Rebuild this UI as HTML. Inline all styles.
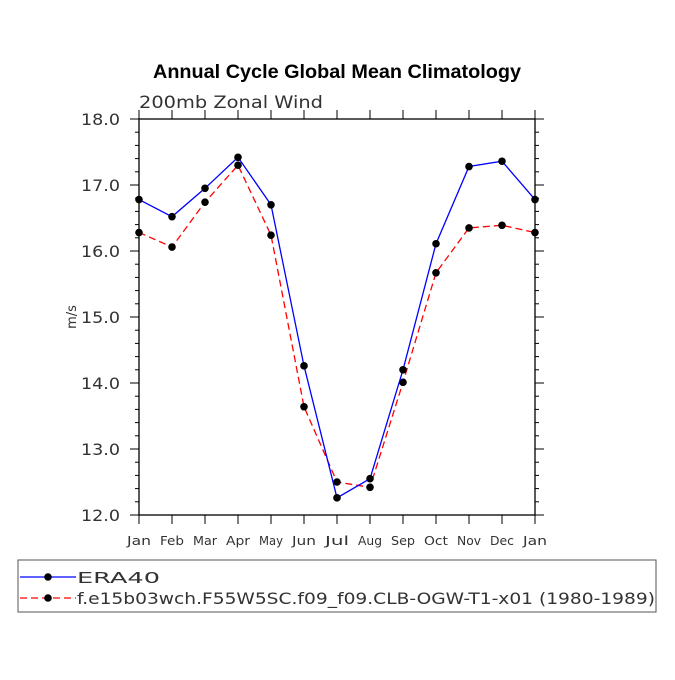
<!DOCTYPE html>
<html><head><meta charset="utf-8"><style>
body{margin:0;background:#fff}
svg text{font-family:"DejaVu Sans","Liberation Sans",sans-serif}
svg text.title{font-family:"Liberation Sans",sans-serif}
</style></head><body>
<svg id="chart" width="675" height="675" viewBox="0 0 675 675">
<text class="title" x="153" y="78" font-weight="bold" font-size="19" textLength="368" lengthAdjust="spacingAndGlyphs">Annual Cycle Global Mean Climatology</text>
<text x="139" y="108" font-size="17" fill="#333" textLength="184" lengthAdjust="spacingAndGlyphs">200mb Zonal Wind</text>
<text transform="translate(76,317) rotate(-90)" text-anchor="middle" font-size="13" fill="#333">m/s</text>
<g id="axes"></g>
<g id="series"></g>
<rect x="18" y="560" width="638" height="52" fill="none" stroke="#555" stroke-width="1"/>
<g>
<line x1="20" y1="577" x2="76" y2="577" stroke="#0000ff" stroke-width="1.3"/>
<circle cx="48" cy="577" r="3.8" fill="#000"/>
<text x="77" y="583" font-size="15" fill="#333" textLength="83" lengthAdjust="spacingAndGlyphs">ERA40</text>
</g>
<g>
<line x1="20" y1="598" x2="76" y2="598" stroke="#ff0000" stroke-width="1.3" stroke-dasharray="7,4"/>
<circle cx="48" cy="598" r="3.8" fill="#000"/>
<text x="77" y="604" font-size="16" fill="#333" textLength="578" lengthAdjust="spacingAndGlyphs">f.e15b03wch.F55W5SC.f09_f09.CLB-OGW-T1-x01 (1980-1989)</text>
</g>
</svg>
<script>
const months=["Jan","Feb","Mar","Apr","May","Jun","Jul","Aug","Sep","Oct","Nov","Dec","Jan"];
const era40=[16.78,16.52,16.95,17.42,16.70,14.26,12.26,12.55,14.20,16.11,17.28,17.36,16.78];
const model=[16.28,16.06,16.74,17.30,16.24,13.64,12.50,12.42,14.01,15.67,16.35,16.39,16.28];
const yTicks=[12.0,13.0,14.0,15.0,16.0,17.0,18.0];
const NS="http://www.w3.org/2000/svg";
const X0=139,X1=535,Y0=515,Y1=119,YMIN=12,YMAX=18;
const xs=i=>X0+(X1-X0)*i/(months.length-1);
const ys=v=>Y0-(v-YMIN)/(YMAX-YMIN)*(Y0-Y1);
function mk(t,a,p){const e=document.createElementNS(NS,t);for(const k in a)e.setAttribute(k,a[k]);p.appendChild(e);return e;}
const ax=document.getElementById('axes');
const frame=mk('rect',{x:X0,y:Y1,width:X1-X0,height:Y0-Y1,fill:'none',stroke:'#000','stroke-width':1.3},ax);


months.forEach((m,i)=>{const x=xs(i);
mk('line',{x1:x,y1:Y0,x2:x,y2:Y0+9,stroke:'#000'},ax);
mk('line',{x1:x,y1:Y1,x2:x,y2:Y1-9,stroke:'#000'},ax);
const t=mk('text',{x:x,y:Y0+30,'text-anchor':'middle','font-size':12,fill:'#333',textLength:24,lengthAdjust:'spacingAndGlyphs'},ax);t.textContent=m;

});
yTicks.forEach((v,i)=>{const y=ys(v);
mk('line',{x1:X0,y1:y,x2:X0-9,y2:y,stroke:'#000'},ax);
mk('line',{x1:X1,y1:y,x2:X1+9,y2:y,stroke:'#000'},ax);
const t=mk('text',{x:X0-58,y:y+6,'font-size':16,fill:'#333',textLength:39,lengthAdjust:'spacingAndGlyphs'},ax);t.textContent=v.toFixed(1);


if(i<yTicks.length-1){for(let k=1;k<5;k++){const yy=ys(v+k*0.2);
mk('line',{x1:X0,y1:yy,x2:X0-4,y2:yy,stroke:'#000'},ax);
mk('line',{x1:X1,y1:yy,x2:X1+4,y2:yy,stroke:'#000'},ax);}}});
const sg=document.getElementById('series');
function draw(data,color,dash,name){
const pts=data.map((v,i)=>xs(i)+','+ys(v)).join(' ');
const pl=mk('polyline',{points:pts,fill:'none',stroke:color,'stroke-width':1.3},sg);
if(dash)pl.setAttribute('stroke-dasharray',dash);


data.forEach((v,i)=>{const c=mk('circle',{cx:xs(i),cy:ys(v),r:3.8,fill:'#000'},sg);

});}
draw(model,'#ff0000','7,4','model');
draw(era40,'#0000ff',null,'era40');
</script>
</body></html>
